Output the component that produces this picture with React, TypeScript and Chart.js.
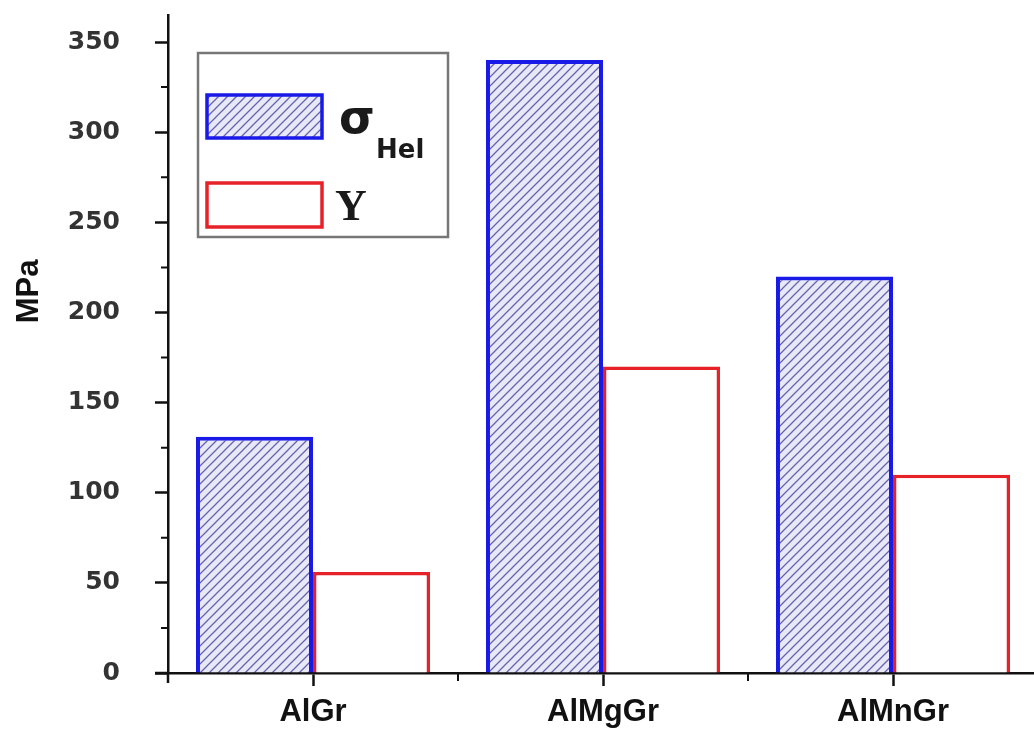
import React, { useEffect, useRef } from "react";
import { Chart, registerables } from "chart.js";

Chart.register(...registerables);

const categories = ["AlGr", "AlMgGr", "AlMnGr"];
const sigmaHelValues = [131, 340, 220];
const yieldValues = [56, 170, 110];
const yMajorValues = [0, 50, 100, 150, 200, 250, 300, 350];
const yMinorValues = [25, 75, 125, 175, 225, 275, 325];
const yMax = 365;

const BLUE = "#1a1ae8";
const RED = "#e62228";
const AXIS = "#111111";

function makeHatch(): CanvasPattern | string {
  const s = 9;
  const c = document.createElement("canvas");
  c.width = s;
  c.height = s;
  const g = c.getContext("2d");
  if (!g) return "#e4e4f6";
  g.fillStyle = "#e8e8f7";
  g.fillRect(0, 0, s, s);
  g.strokeStyle = "#6464b0";
  g.lineWidth = 1.3;
  g.beginPath();
  g.moveTo(0, s);
  g.lineTo(s, 0);
  g.moveTo(-s / 2, s / 2);
  g.lineTo(s / 2, -s / 2);
  g.moveTo(s / 2, s + s / 2);
  g.lineTo(s + s / 2, s / 2);
  g.stroke();
  const p = g.createPattern(c, "repeat");
  return p || "#e4e4f6";
}

export default function App() {
  const ref = useRef<HTMLCanvasElement | null>(null);

  useEffect(() => {
    const canvas = ref.current;
    if (!canvas) return;
    const hatch = makeHatch();

    const extras = {
      id: "extras",
      afterDraw(chart: any) {
        const ctx = chart.ctx as CanvasRenderingContext2D;
        const ca = chart.chartArea;
        const xs = chart.scales.x;
        const ys = chart.scales.y;
        ctx.save();
        ctx.strokeStyle = AXIS;
        ctx.lineWidth = 2.5;
        ctx.beginPath();
        ctx.moveTo(ca.left - 13, ca.bottom);
        ctx.lineTo(ca.left, ca.bottom);
        ctx.moveTo(ca.left, ca.bottom);
        ctx.lineTo(ca.left, ca.bottom + 10);
        ctx.stroke();
        ctx.lineWidth = 2;
        ctx.beginPath();
        yMinorValues.forEach((v) => {
          const py = ys.getPixelForValue(v);
          ctx.moveTo(ca.left, py);
          ctx.lineTo(ca.left - 7, py);
        });
        for (let i = 0; i < categories.length; i++) {
          const a = xs.getPixelForValue(i);
          const b = xs.getPixelForValue(i + 1);
          const px = (a + b) / 2;
          ctx.moveTo(px, ca.bottom);
          ctx.lineTo(px, ca.bottom + 8);
        }
        ctx.stroke();

        ctx.save();
        ctx.translate(29, ca.top + (ca.bottom - ca.top) * 0.42);
        ctx.rotate(-Math.PI / 2);
        ctx.fillStyle = AXIS;
        ctx.font = "bold 31px 'Liberation Sans', Arial, sans-serif";
        ctx.textAlign = "center";
        ctx.textBaseline = "middle";
        ctx.fillText("MPa", 0, 0);
        ctx.restore();

        const lx = ca.left + 30;
        const ly = ca.top + 38;
        ctx.strokeStyle = "#777777";
        ctx.lineWidth = 2.5;
        ctx.fillStyle = "#ffffff";
        ctx.fillRect(lx, ly, 250, 184);
        ctx.strokeRect(lx, ly, 250, 184);

        const ds0 = chart.data.datasets[0];
        const ds1 = chart.data.datasets[1];
        ctx.fillStyle = ds0.backgroundColor;
        ctx.fillRect(lx + 9, ly + 42, 115, 43);
        ctx.strokeStyle = ds0.borderColor;
        ctx.lineWidth = 3.5;
        ctx.strokeRect(lx + 9, ly + 42, 115, 43);
        ctx.fillStyle = "#ffffff";
        ctx.fillRect(lx + 9, ly + 130, 115, 44);
        ctx.strokeStyle = ds1.borderColor;
        ctx.strokeRect(lx + 9, ly + 130, 115, 44);

        ctx.fillStyle = "#1a1a1a";
        ctx.textAlign = "left";
        ctx.textBaseline = "alphabetic";
        ctx.font = "bold 46px 'DejaVu Sans', sans-serif";
        ctx.fillText("σ", lx + 141, ly + 80);
        ctx.font = "bold 26px 'DejaVu Sans', sans-serif";
        ctx.fillText("Hel", lx + 178, ly + 105);
        ctx.font = "bold 44px 'Liberation Serif', 'Times New Roman', serif";
        ctx.fillText("Y", lx + 137, ly + 167);
        ctx.restore();
      },
    };

    const chart = new Chart(canvas, {
      type: "bar",
      data: {
        labels: categories,
        datasets: [
          {
            label: "σHel",
            data: sigmaHelValues,
            backgroundColor: hatch as any,
            borderColor: BLUE,
            borderWidth: 4,
            borderSkipped: "start",
            barPercentage: 1,
            categoryPercentage: 0.807,
          },
          {
            label: "Y",
            data: yieldValues,
            backgroundColor: "#ffffff",
            borderColor: RED,
            borderWidth: 3.5,
            borderSkipped: "start",
            barPercentage: 1,
            categoryPercentage: 0.807,
          },
        ],
      },
      options: {
        responsive: false,
        animation: false,
        devicePixelRatio: 1,
        layout: { padding: { top: 15, right: 12, left: 0, bottom: 0 } },
        plugins: {
          legend: { display: false },
          tooltip: { enabled: false },
          title: { display: false },
        },
        scales: {
          x: {
            type: "category",
            offset: true,
            grid: {
              display: true,
              drawOnChartArea: false,
              offset: false,
              tickLength: 13,
              tickWidth: 2.5,
              tickColor: AXIS,
            },
            border: { display: true, color: AXIS, width: 2.5 },
            ticks: {
              color: AXIS,
              padding: 8,
              font: { family: "'Liberation Sans', Arial, sans-serif", weight: "bold", size: 31 },
              maxRotation: 0,
            },
            afterFit: (s: any) => {
              s.height = 73;
              s.paddingLeft = 0;
              s.paddingRight = 0;
            },
          },
          y: {
            min: 0,
            max: yMax,
            grid: {
              display: true,
              drawOnChartArea: false,
              tickLength: 13,
              tickWidth: 2.5,
              tickColor: AXIS,
            },
            border: { display: true, color: AXIS, width: 2.5 },
            ticks: {
              color: "#333333",
              padding: 35,
              font: { family: "'DejaVu Sans', sans-serif", weight: "bold", size: 25 },
            },
            afterBuildTicks: (s: any) => {
              s.ticks = yMajorValues.map((v) => ({ value: v }));
            },
            afterFit: (s: any) => {
              s.width = 168;
              s.paddingTop = 0;
              s.paddingBottom = 0;
            },
          },
        },
      },
      plugins: [extras],
    });

    return () => chart.destroy();
  }, []);

  return (
    <div
      style={{
        position: "fixed",
        left: 0,
        top: 0,
        width: 1034,
        height: 746,
        overflow: "hidden",
        background: "#ffffff",
      }}
    >
      <canvas ref={ref} width={1050} height={746} style={{ display: "block", width: 1050, height: 746 }} />
    </div>
  );
}
